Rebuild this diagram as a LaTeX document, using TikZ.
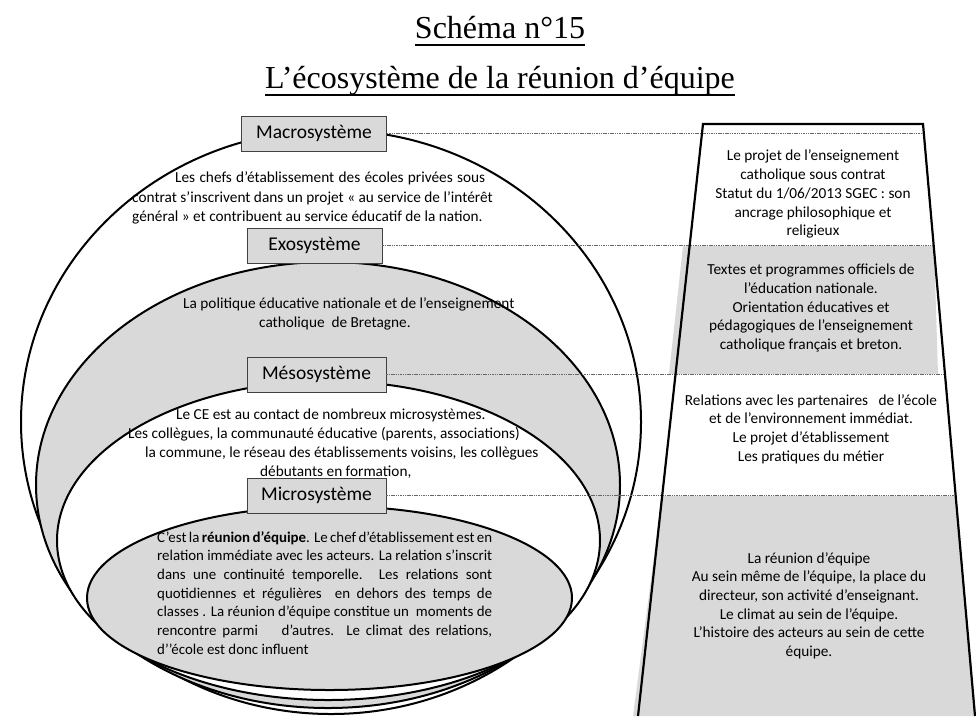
\documentclass[tikz,border=0pt]{standalone}
\usepackage{fontspec}
\setmainfont{Carlito}
\newfontfamily\titlefont{Liberation Serif}
\definecolor{panelgrey}{HTML}{D9D9D9}
\begin{document}
\begin{tikzpicture}[x=1pt,y=-1pt,
  layerbox/.style={draw=black!75, line width=0.8pt, fill=panelgrey, minimum height=35pt,
    inner sep=0pt, font=\fontsize{19.5}{21}\selectfont},
  ring/.style={draw=black, line width=2pt},
  body/.style={inner sep=0pt, font=\fontsize{15.3}{18.7}\selectfont},
  leader/.style={draw=black!60, line width=0.7pt, dash pattern=on 1.5pt off 0.8pt},
  headline/.style={inner sep=0pt, font=\titlefont\fontsize{32}{36}\selectfont},
  underline/.style={line width=1.4pt},
]
\useasboundingbox (0,0) rectangle (976,716);
\fill[white] (0,0) rectangle (976,716);

% title
\node[headline, anchor=base] (t1) at (500,38) {Schéma n°15};
\node[headline, anchor=base] (t2) at (500,88) {L’écosystème de la réunion d’équipe};
\draw[underline] ([yshift=-7pt]t1.base west) -- ([yshift=-7pt]t1.base east);
\draw[underline] ([yshift=-7pt]t2.base west) -- ([yshift=-7pt]t2.base east);

% nested ellipses, outermost first
\draw[ring, fill=white]     (331,422)   ellipse [x radius=310pt,   y radius=292pt];
\draw[ring, fill=panelgrey] (328,485)   ellipse [x radius=292pt,   y radius=223pt];
\draw[ring, fill=white]     (328.5,540.5) ellipse [x radius=271.5pt, y radius=159.5pt];
\draw[ring, fill=panelgrey] (329.5,598) ellipse [x radius=242.5pt, y radius=92pt];

% shaded bands of the column
\fill[panelgrey] (683,246) -- (934,246) -- (938,374) -- (669,374) -- cycle;
\fill[panelgrey] (662,496) -- (956,496) -- (976,716) -- (633,716) -- cycle;

% end points of the leader lines on the right side of the column
\coordinate (macroEnd) at (924,133.5);
\coordinate (exoEnd)   at (933.7,245.5);
\coordinate (mesoEnd)  at (945,374.5);
\coordinate (microEnd) at (955.7,495.5);

% level labels
\node[layerbox, minimum width=145pt] (macro) at (314,133.5) {Macrosystème};
\node[layerbox, minimum width=135pt] (exo)   at (314.5,245.5) {Exosystème};
\node[layerbox, minimum width=139pt] (meso)  at (316.5,374.5) {Mésosystème};
\node[layerbox, minimum width=139pt] (micro) at (316.5,495.5) {Microsystème};

\draw[leader] (macro.east) -- (macroEnd);
\draw[leader] (exo.east)   -- (exoEnd);
\draw[leader] (meso.east)  -- (mesoEnd);
\draw[leader] (micro.east) -- (microEnd);

% column outline
\draw[line width=2.2pt, line join=miter] (638,716) -- (703,124) -- (923,124) -- (975,716);

% texts inside the ellipses
\node[body, anchor=north west, align=left, font=\fontsize{15.3}{19.5}\selectfont] (macrotext) at (132,172) {%
\hspace*{43pt}\makebox[310pt][s]{Les chefs d’établissement des écoles privées sous}\\
contrat s’inscrivent dans un projet « au service de l’intérêt\\
général » et contribuent au service éducatif de la nation.};

\node[body, anchor=north west, align=left] (exotext) at (183,298) {%
La politique éducative nationale et de l’enseignement\\
\hspace*{76pt}catholique\ \ de Bretagne.};

\node[body, anchor=north west, align=left, font=\fontsize{15.3}{19}\selectfont] (mesotext) at (128,409) {%
\hspace*{48pt}Le CE est au contact de nombreux microsystèmes.\\
Les collègues, la communauté éducative (parents, associations)\\
\hspace*{17pt}la commune, le réseau des établissements voisins, les collègues\\
\hspace*{132pt}débutants en formation,};

\node[body, anchor=north west, align=left, font=\fontsize{14.9}{18.7}\selectfont] (microtext) at (157,531) {%
\makebox[335pt][s]{C’est la \textbf{réunion d’équipe}. Le chef d’établissement est en}\\
\makebox[335pt][s]{relation immédiate avec les acteurs. La relation s’inscrit}\\
\makebox[335pt][s]{dans une continuité temporelle. Les relations sont}\\
\makebox[335pt][s]{quotidiennes et régulières\ \ en dehors des temps de}\\
\makebox[335pt][s]{classes . La réunion d’équipe constitue un\ \ moments de}\\
\makebox[335pt][s]{rencontre parmi\ \ \ \ d’autres. Le climat des relations,}\\
d’’école est donc influent};

% texts of the column
\node[body, anchor=north, align=center] (macroside) at (813,150) {%
Le projet de l’enseignement\\
catholique sous contrat\\
Statut du 1/06/2013 SGEC : son\\
ancrage philosophique et\\
religieux};

\node[body, anchor=north, align=center] (exoside) at (811,264) {%
Textes et programmes officiels de\\
l’éducation nationale.\\
Orientation éducatives et\\
pédagogiques de l’enseignement\\
catholique français et breton.};

\node[body, anchor=north, align=center] (mesoside) at (811,394) {%
Relations avec les partenaires\ \ \ de l’école\\
et de l’environnement immédiat.\\
Le projet d’établissement\\
Les pratiques du métier};

\node[body, anchor=north, align=center] (microside) at (809,552) {%
La réunion d’équipe\\
Au sein même de l’équipe, la place du\\
directeur, son activité d’enseignant.\\
Le climat au sein de l’équipe.\\
L’histoire des acteurs au sein de cette\\
équipe.};
\end{tikzpicture}
\end{document}
